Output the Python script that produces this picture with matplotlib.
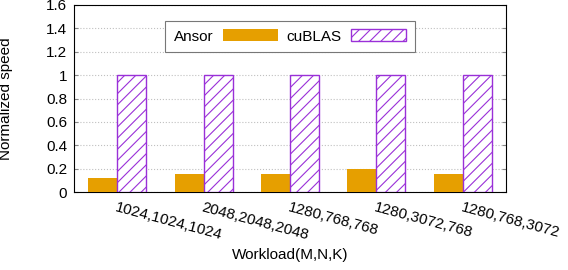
import matplotlib
matplotlib.use('Agg')
import matplotlib.pyplot as plt
import numpy as np

plt.rcParams['font.family'] = ['Liberation Sans', 'DejaVu Sans']
plt.rcParams['hatch.linewidth'] = 0.8

workloads = ['1024,1024,1024', '2048,2048,2048', '1280,768,768', '1280,3072,768', '1280,768,3072']
ansor = [0.122, 0.154, 0.154, 0.197, 0.157]
cublas = [1, 1, 1, 1, 1]

fig = plt.figure(figsize=(5.68, 2.7), dpi=100)
ax = fig.add_axes([74/568, 1 - 192/270, 432/568, 187/270])

x = np.arange(len(workloads))
w = 0.336
ax.bar(x - w/2, ansor, w, color='#E69F00', label='Ansor', zorder=3)
plt.rcParams['hatch.color'] = '#B060E8'
ax.bar(x + w/2, cublas, w, color='white', edgecolor='#9A30D8', hatch='///',
       linewidth=1.0, label='cuBLAS', zorder=3)

ax.set_xlim(-0.5, 4.5)
ax.set_ylim(0, 1.6)
ax.set_yticks([0, 0.2, 0.4, 0.6, 0.8, 1.0, 1.2, 1.4, 1.6])
ax.set_yticklabels(['0', '0.2', '0.4', '0.6', '0.8', '1', '1.2', '1.4', '1.6'])
ax.yaxis.grid(True, color='#c0c0c0', linestyle=':', linewidth=0.8, zorder=0)
ax.set_axisbelow(True)
ax.tick_params(axis='y', direction='in', labelsize=11, length=3, right=True, color='#888888', pad=5)
ax.set_xticks(x)
ax.set_xticklabels(workloads, rotation=-15, ha='left', rotation_mode='anchor', fontsize=11)
ax.tick_params(axis='x', length=0, pad=6)
for s in ax.spines.values():
    s.set_linewidth(0.8)

ax.set_ylabel('Normalized speed', fontsize=11, labelpad=24)
ax.set_xlabel('Workload(M,N,K)', fontsize=11, labelpad=4)

leg = ax.legend(loc='upper center', bbox_to_anchor=(0.5, 0.955), ncol=2, markerfirst=False,
                fontsize=11, frameon=True, fancybox=False, edgecolor='#777777', framealpha=1,
                handlelength=3.6, handleheight=0.8, columnspacing=0.6, handletextpad=0.6,
                borderpad=0.55)
leg.get_frame().set_linewidth(0.8)

fig.savefig('out.png', dpi=100)
